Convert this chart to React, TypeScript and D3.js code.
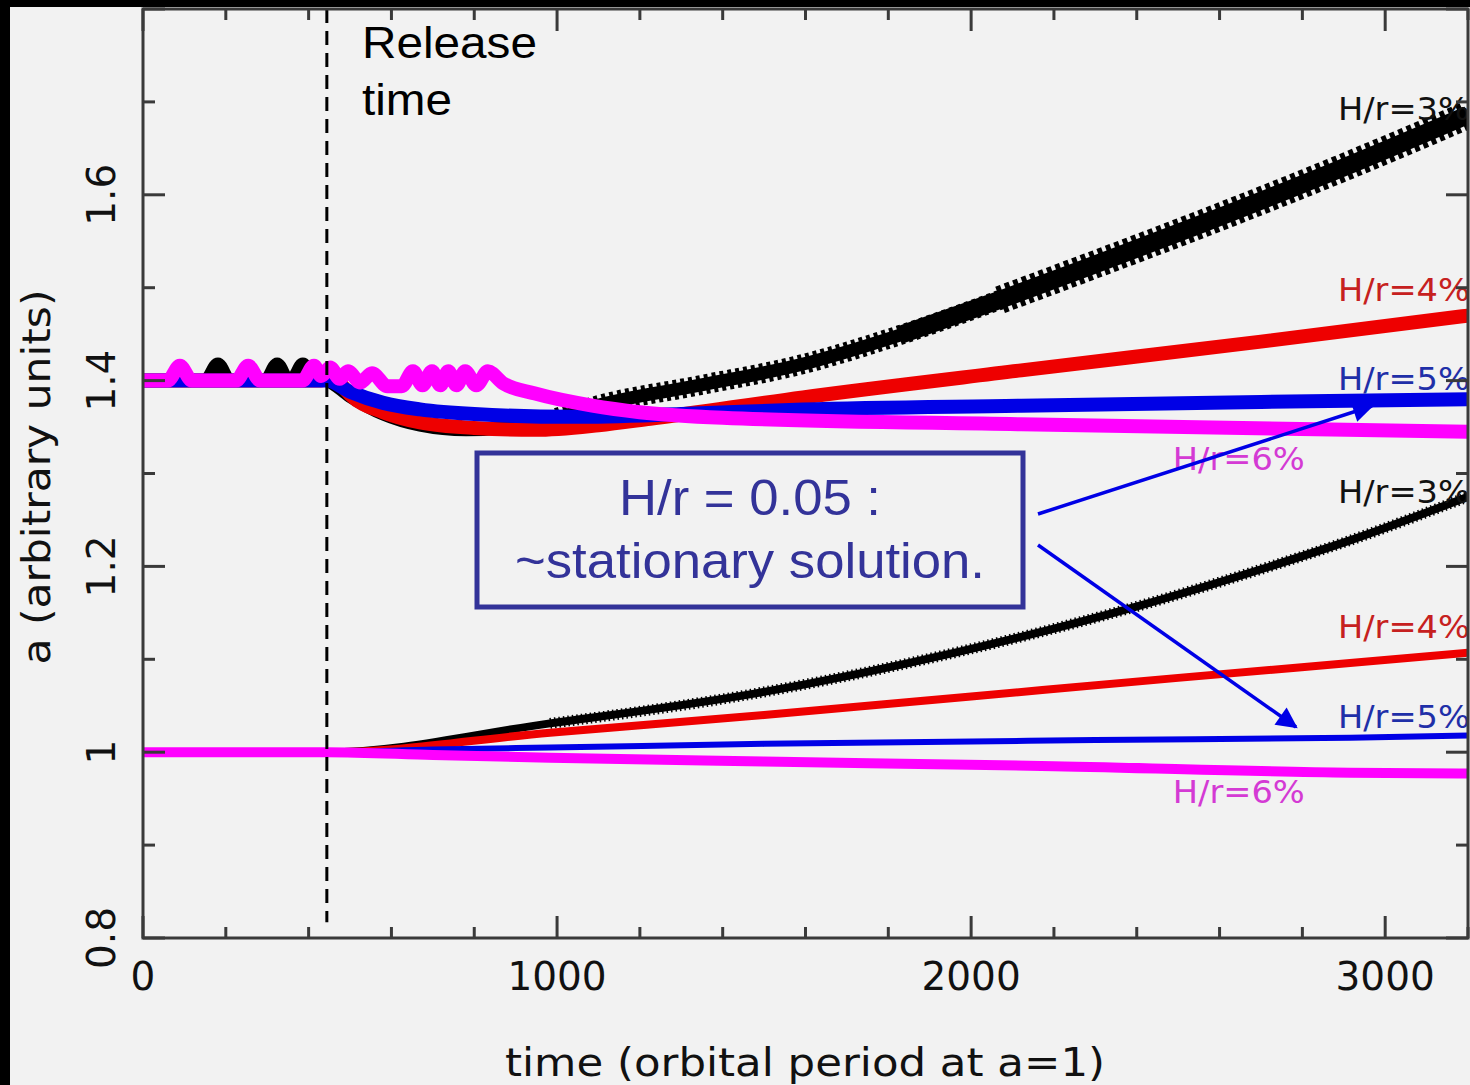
import * as d3 from "d3";

// a(t), t in orbital periods at a=1
const releaseTime = 444;

const upper3: [number, number][] = [
  [0, 1.4], [150, 1.4], [181, 1.418], [210, 1.4], [295, 1.4], [324, 1.418], [352, 1.4],
  [365, 1.404], [386, 1.418], [410, 1.402], [444, 1.4], [500, 1.383], [580, 1.364],
  [669, 1.352], [780, 1.347], [900, 1.351], [1000, 1.36], [1104, 1.374], [1345, 1.395],
  [1587, 1.417], [1828, 1.449], [2070, 1.487], [2311, 1.527], [2553, 1.568], [2886, 1.627],
  [3200, 1.686],
];
const upper4: [number, number][] = [
  [0, 1.4], [430, 1.4], [452, 1.413], [475, 1.398], [500, 1.385], [580, 1.366], [669, 1.355],
  [800, 1.349], [947, 1.347], [1100, 1.352], [1225, 1.359], [1594, 1.382], [2121, 1.411],
  [2700, 1.442], [3200, 1.47],
];
const upper5: [number, number][] = [
  [0, 1.4], [444, 1.4], [500, 1.388], [580, 1.376], [669, 1.369], [800, 1.364], [1039, 1.361],
  [1300, 1.364], [1594, 1.369], [2121, 1.373], [2700, 1.377], [3200, 1.38],
];
const upper6: [number, number][] = [
  [0, 1.4], [60, 1.4], [89, 1.416], [118, 1.4], [225, 1.4], [254, 1.416], [283, 1.4],
  [385, 1.4], [413, 1.416], [430, 1.405], [452, 1.414], [475, 1.402], [495, 1.41],
  [525, 1.398], [553, 1.408], [590, 1.394], [625, 1.394], [652, 1.41], [675, 1.395],
  [698, 1.41], [718, 1.395], [737, 1.41], [757, 1.395], [778, 1.41], [805, 1.395],
  [833, 1.41], [870, 1.397], [947, 1.386], [1085, 1.373], [1200, 1.366], [1400, 1.36],
  [2121, 1.353], [3200, 1.345],
];

const lower3: [number, number][] = [
  [0, 1], [444, 1], [983, 1.031], [1476, 1.063], [1969, 1.108], [2401, 1.157],
  [2708, 1.198], [2915, 1.228], [3200, 1.275],
];
const lower4: [number, number][] = [
  [0, 1], [444, 1], [983, 1.021], [1500, 1.04], [2000, 1.06], [2500, 1.08], [2915, 1.096],
  [3200, 1.107],
];
const lower5: [number, number][] = [
  [0, 1], [444, 1], [700, 1.003], [983, 1.005], [1500, 1.009], [2300, 1.013], [2915, 1.0155],
  [3200, 1.018],
];
const lower6: [number, number][] = [
  [0, 1], [444, 1], [700, 0.997], [983, 0.994], [1500, 0.99], [2200, 0.985], [2915, 0.978],
  [3200, 0.977],
];

const xMajorTicks = [0, 1000, 2000, 3000];
const xMinorTicks = d3.range(0, 3201, 200);
const yMajorTicks = [0.8, 1, 1.2, 1.4, 1.6];
const yMinorTicks = d3.range(8, 19).map((v) => v / 10);

const W = 1470;
const H = 1085;
const x = d3.scaleLinear().domain([0, 3200]).range([143, 1468]);
const y = d3.scaleLinear().domain([0.8, 1.8]).range([938, 9]);

const draw = d3
  .line<[number, number]>()
  .x((d) => x(d[0]))
  .y((d) => y(d[1]))
  .curve(d3.curveMonotoneX);

const RED = "#ee0000";
const BLUE = "#0000e6";
const MAGENTA = "#ff00ff";
const AXIS = "#3a3a3a";
const NAVY = "#333399";
const tickFont = "'DejaVu Sans', sans-serif";

export default function App() {
  const label = (text: string, t: number, a: number, color: string) => (
    <text
      x={x(t)}
      y={y(a)}
      fill={color}
      fontSize={32}
      fontFamily={tickFont}
      textLength={132}
      lengthAdjust="spacingAndGlyphs"
    >
      {text}
    </text>
  );

  return (
    <svg
      width={W}
      height={H}
      style={{ position: "absolute", left: 0, top: 0, display: "block" }}
    >
      <defs>
        <clipPath id="plot">
          <rect x={x(0)} y={y(1.8)} width={x(3200) - x(0)} height={y(0.8) - y(1.8)} />
        </clipPath>
        <marker
          id="head"
          viewBox="0 0 10 10"
          refX="9"
          refY="5"
          markerWidth="7.5"
          markerHeight="6"
          orient="auto"
          markerUnits="strokeWidth"
        >
          <path d="M0,0 L10,5 L0,10 z" fill={BLUE} />
        </marker>
      </defs>
      <rect width={W} height={H} fill="#f2f2f2" />
      <rect width={W} height={7} fill="#000" />
      <rect width={10} height={H} fill="#000" />

      <g clipPath="url(#plot)" fill="none" strokeLinejoin="round">
        {/* upper group */}
        <path d={draw(upper3) ?? undefined} stroke="#000" strokeWidth={13} />
        <path
          d={draw(upper3.filter((d) => d[0] >= 1000 && d[0] <= 2100)) ?? undefined}
          stroke="#000"
          strokeWidth={20}
          strokeDasharray="4 4"
        />
        <path
          d={draw(upper3.filter((d) => d[0] >= 1828)) ?? undefined}
          stroke="#000"
          strokeWidth={18}
        />
        <path
          d={draw(upper3.filter((d) => d[0] >= 2070)) ?? undefined}
          stroke="#000"
          strokeWidth={28}
          strokeDasharray="5 4"
        />
        <path d={draw(upper4) ?? undefined} stroke={RED} strokeWidth={14} />
        <path d={draw(upper5) ?? undefined} stroke={BLUE} strokeWidth={14} />
        <path d={draw(upper6) ?? undefined} stroke={MAGENTA} strokeWidth={14} />

        {/* lower group */}
        <path d={draw(lower3) ?? undefined} stroke="#000" strokeWidth={8} />
        <path
          d={draw(lower3.filter((d) => d[0] >= 900)) ?? undefined}
          stroke="#000"
          strokeWidth={11}
          strokeDasharray="1.5 3"
        />
        <path d={draw(lower4) ?? undefined} stroke={RED} strokeWidth={8} />
        <path d={draw(lower5) ?? undefined} stroke={BLUE} strokeWidth={6} />
        <path d={draw(lower6) ?? undefined} stroke={MAGENTA} strokeWidth={10} />

        {label("H/r=3%", 2886, 1.681, "#111")}
        {label("H/r=4%", 2886, 1.486, "#c62020")}
        {label("H/r=5%", 2886, 1.39, "#1f2fa8")}
        {label("H/r=6%", 2487, 1.304, "#d43ad4")}
        {label("H/r=3%", 2886, 1.268, "#111")}
        {label("H/r=4%", 2886, 1.123, "#c62020")}
        {label("H/r=5%", 2886, 1.026, "#1f2fa8")}
        {label("H/r=6%", 2487, 0.945, "#d43ad4")}
      </g>

      {/* release time */}
      <line
        x1={x(releaseTime)}
        x2={x(releaseTime)}
        y1={y(1.8)}
        y2={y(0.817)}
        stroke="#000"
        strokeWidth={3}
        strokeDasharray="14 8"
      />
      <text
        x={362}
        y={58}
        fontSize={44}
        fontFamily="'Liberation Sans', Arial, sans-serif"
        textLength={175}
        lengthAdjust="spacingAndGlyphs"
      >
        Release
      </text>
      <text
        x={362}
        y={115}
        fontSize={44}
        fontFamily="'Liberation Sans', Arial, sans-serif"
        textLength={90}
        lengthAdjust="spacingAndGlyphs"
      >
        time
      </text>

      {/* frame and ticks */}
      <g stroke={AXIS} strokeWidth={3} fill="none">
        <rect x={x(0)} y={y(1.8)} width={x(3200) - x(0)} height={y(0.8) - y(1.8)} />
        {xMinorTicks.map((t) => {
          const len = t % 1000 === 0 ? 22 : 11;
          return (
            <g key={`xt${t}`}>
              <line x1={x(t)} x2={x(t)} y1={y(0.8)} y2={y(0.8) - len} />
              <line x1={x(t)} x2={x(t)} y1={y(1.8)} y2={y(1.8) + len} />
            </g>
          );
        })}
        {yMinorTicks.map((v) => {
          const len = Math.round(v * 10) % 2 === 0 ? 22 : 12;
          return (
            <g key={`yt${v}`}>
              <line x1={x(0)} x2={x(0) + len} y1={y(v)} y2={y(v)} />
              <line x1={x(3200)} x2={x(3200) - len} y1={y(v)} y2={y(v)} />
            </g>
          );
        })}
      </g>

      <g fontFamily={tickFont} fontSize={39} fill="#111">
        {xMajorTicks.map((t) => (
          <text key={`xl${t}`} x={x(t)} y={990} textAnchor="middle">
            {t}
          </text>
        ))}
        {yMajorTicks.map((v) => (
          <text
            key={`yl${v}`}
            transform={`translate(115,${y(v)}) rotate(-90)`}
            textAnchor="middle"
          >
            {v === 1 ? "1" : v.toFixed(1)}
          </text>
        ))}
        <text
          x={805}
          y={1076}
          textAnchor="middle"
          textLength={600}
          lengthAdjust="spacingAndGlyphs"
        >
          time (orbital period at a=1)
        </text>
        <text
          transform="translate(50,477) rotate(-90)"
          textAnchor="middle"
          textLength={375}
          lengthAdjust="spacingAndGlyphs"
        >
          a (arbitrary units)
        </text>
      </g>

      {/* annotation */}
      <rect x={477} y={453} width={546} height={154} fill="none" stroke={NAVY} strokeWidth={5} />
      <g fill={NAVY} fontFamily="'Liberation Sans', Arial, sans-serif" fontSize={50} textAnchor="middle">
        <text x={750} y={515} textLength={262} lengthAdjust="spacingAndGlyphs">
          H/r = 0.05 :
        </text>
        <text x={750} y={578} textLength={470} lengthAdjust="spacingAndGlyphs">
          ~stationary solution.
        </text>
      </g>
      <g stroke={BLUE} strokeWidth={3.5}>
        <line x1={1038} y1={514} x2={1372} y2={406} markerEnd="url(#head)" />
        <line x1={1038} y1={545} x2={1296} y2={727} markerEnd="url(#head)" />
      </g>
    </svg>
  );
}
